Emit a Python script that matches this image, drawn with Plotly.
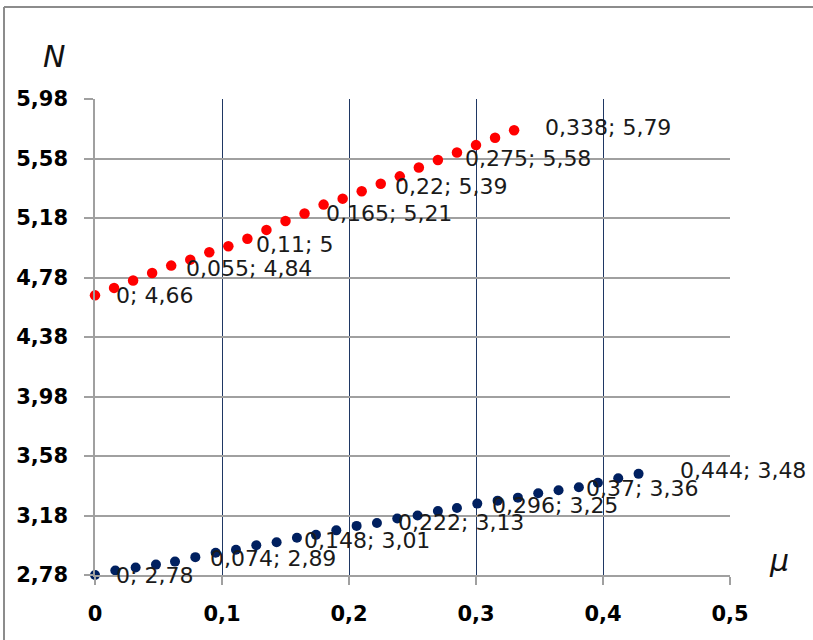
import plotly.graph_objects as go

# ---- data ----
red_mu = [0.000, 0.015, 0.030, 0.045, 0.060, 0.075, 0.090, 0.105, 0.120, 0.135, 0.150, 0.165,
          0.180, 0.195, 0.210, 0.225, 0.240, 0.255, 0.270, 0.285, 0.300, 0.315, 0.330]
red_N = [4.66, 4.71, 4.76, 4.81, 4.86, 4.90, 4.95, 4.99, 5.04, 5.10, 5.16, 5.21,
         5.27, 5.31, 5.36, 5.41, 5.46, 5.52, 5.57, 5.62, 5.67, 5.72, 5.77]

blue_mu = [0.000, 0.016, 0.032, 0.048, 0.063, 0.079, 0.095, 0.111, 0.127, 0.143, 0.159, 0.174,
           0.190, 0.206, 0.222, 0.238, 0.254, 0.270, 0.285, 0.301, 0.317, 0.333, 0.349, 0.365,
           0.381, 0.396, 0.412, 0.428]
blue_N = [2.78, 2.81, 2.83, 2.85, 2.87, 2.90, 2.93, 2.95, 2.98, 3.00, 3.03, 3.05,
          3.08, 3.11, 3.13, 3.16, 3.18, 3.21, 3.23, 3.26, 3.28, 3.30, 3.33, 3.35,
          3.37, 3.40, 3.43, 3.46]

red_label_mu = [0, 0.055, 0.11, 0.165, 0.22, 0.275, 0.338]
red_label_N = [4.66, 4.84, 5.0, 5.21, 5.39, 5.58, 5.79]
blue_label_mu = [0, 0.074, 0.148, 0.222, 0.296, 0.37, 0.444]
blue_label_N = [2.78, 2.89, 3.01, 3.13, 3.25, 3.36, 3.48]

y_ticks = [2.78, 3.18, 3.58, 3.98, 4.38, 4.78, 5.18, 5.58, 5.98]
x_ticks = [0, 0.1, 0.2, 0.3, 0.4, 0.5]


def fmt(v):
    return f"{v:g}".replace(".", ",")


W, H = 813, 640
ML, MR, MT, MB = 95, 83, 99, 65
PW, PH = W - ML - MR, H - MT - MB

fig = go.Figure()
fig.add_trace(go.Scatter(x=red_mu, y=red_N, mode="markers",
                         marker=dict(color="#FF0000", size=10.5), cliponaxis=False,
                         showlegend=False, hoverinfo="x+y"))
fig.add_trace(go.Scatter(x=blue_mu, y=blue_N, mode="markers",
                         marker=dict(color="#002060", size=10), cliponaxis=False,
                         showlegend=False, hoverinfo="x+y"))

label_font = dict(family="DejaVu Sans", size=22, color="#1a1a1a")
annotations = []
for mx, ny in list(zip(red_label_mu, red_label_N)) + list(zip(blue_label_mu, blue_label_N)):
    annotations.append(dict(x=mx, y=ny, xref="x", yref="y", text=f"{fmt(mx)}; {fmt(ny)}",
                            showarrow=False, xanchor="left", yanchor="middle",
                            xshift=19, font=label_font))

title_font = dict(family="DejaVu Sans", size=30, color="#111111", style="italic")
annotations.append(dict(x=(54 - ML) / PW, y=(H - MB - 56) / PH, xref="paper", yref="paper",
                        text="N", showarrow=False, xanchor="center", yanchor="middle",
                        font=title_font))
annotations.append(dict(x=(779 - ML) / PW, y=(H - MB - 560) / PH, xref="paper", yref="paper",
                        text="μ", showarrow=False, xanchor="center", yanchor="middle",
                        font=title_font))

tick_font = dict(family="DejaVu Sans", size=21, color="#000000", weight="bold")

fig.update_layout(
    width=W, height=H,
    margin=dict(l=ML, r=MR, t=MT, b=MB),
    paper_bgcolor="white", plot_bgcolor="white",
    annotations=annotations,
    xaxis=dict(range=[0, 0.5], tickvals=x_ticks, ticktext=[fmt(v) for v in x_ticks],
               showgrid=True, gridcolor="#1F3763", gridwidth=1,
               zeroline=False, showline=True, linecolor="#A0A0A0", linewidth=1.5,
               ticks="outside", ticklen=8, tickcolor="#A0A0A0", tickwidth=1.5,
               ticklabelstandoff=11, tickfont=tick_font),
    yaxis=dict(range=[2.78, 5.98], tickvals=y_ticks, ticktext=[fmt(v) for v in y_ticks],
               showgrid=True, gridcolor="#A0A0A0", gridwidth=1.5,
               zeroline=False, showline=True, linecolor="#A0A0A0", linewidth=1.5,
               ticks="outside", ticklen=9, tickcolor="#A0A0A0", tickwidth=1.5,
               ticklabelstandoff=12, tickfont=tick_font),
    shapes=[
        dict(type="line", xref="paper", yref="paper",
             x0=(4 - ML) / PW, x1=(4 - ML) / PW, y0=(H - MB - H) / PH, y1=(H - MB - 7) / PH,
             line=dict(color="#8C8C8C", width=2)),
        dict(type="line", xref="paper", yref="paper",
             x0=(4 - ML) / PW, x1=(W - ML) / PW, y0=(H - MB - 7) / PH, y1=(H - MB - 7) / PH,
             line=dict(color="#8C8C8C", width=2)),
    ],
)

fig.write_html("out.html", config={"displayModeBar": False},
               post_script="document.body.style.margin='0px';")
